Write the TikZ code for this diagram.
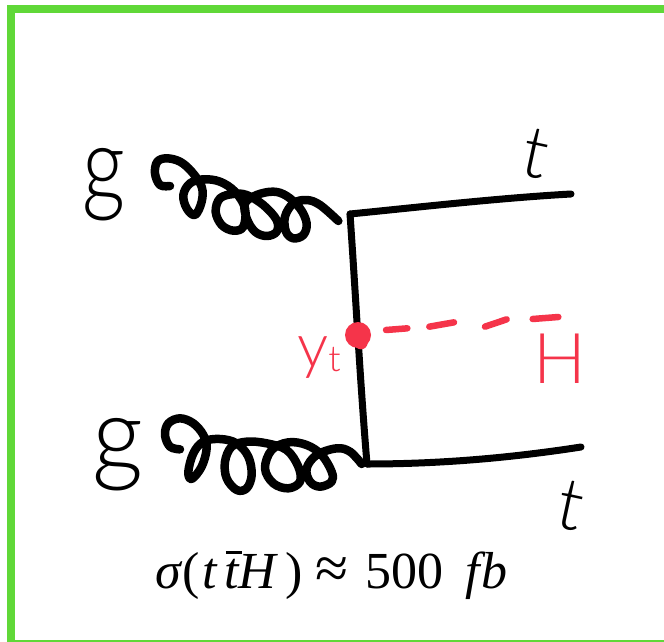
\documentclass[tikz,border=0pt]{standalone}
\usepackage{fontspec}
\setmainfont{Liberation Serif}
\newfontfamily\handfont{Lato Light}
\definecolor{framegreen}{RGB}{96,216,56}
\definecolor{hred}{RGB}{245,52,74}
\tikzset{
  quark/.style={line width=7pt,line cap=round,line join=round,black},
  gluon/.style={line width=8.5pt,line cap=round,line join=round,black},
  higgs/.style={line width=6.5pt,line cap=round,hred},
  hand/.style={font=\handfont,inner sep=0pt,anchor=center},
  handblack/.style={hand,black},
  handred/.style={hand,hred},
  zoomA/.style={shift={(70pt,-120pt)},x=0.33333pt,y=-0.33333pt},
  zoomB/.style={shift={(80pt,-400pt)},x=0.33333pt,y=-0.33333pt},
  zoomC/.style={shift={(290pt,-300pt)},x=0.33333pt,y=-0.33333pt},
}
\begin{document}
\begin{tikzpicture}[x=1pt,y=-1pt]
\useasboundingbox (0,0) rectangle (664,642);
\fill[white] (0,0) rectangle (664,642);
% frame
\fill[framegreen] (7,5) rectangle (664,13);
\fill[framegreen] (7,5) rectangle (15,642);
\fill[framegreen] (7,640) rectangle (664,642);
% vertices
\coordinate (v1) at (350,214);
\coordinate (v2) at (367,464);
\coordinate (e1) at (571,194);
\coordinate (e2) at (581,447);
% fermion lines
\draw[quark] (v1) .. controls (356,300) and (360,380) .. (v2);
\draw[quark] (v1) .. controls (420,207) and (500,198) .. (e1);
\draw[quark] (v2) .. controls (440,464) and (510,458) .. (e2);
% gluons
\begin{scope}[zoomA]
\draw[gluon] plot[smooth,tension=0.6] coordinates {(300,198)(270,195)(255,160)(262,125)(290,115)(330,125)(365,155)(395,200)(395,245)(375,285)(350,265)(340,225)(360,190)(400,178)(450,185)(495,215)(525,265)(520,320)(490,332)(455,315)(437,275)(450,235)(490,222)(530,225)(580,255)(620,300)(620,335)(590,348)(555,335)(530,295)(525,250)(560,225)(610,215)(650,228)(690,265)(710,310)(700,345)(670,355)(648,335)(645,290)(670,250)(710,240)(750,255)(805,303)};
\end{scope}
\begin{scope}[zoomB]
\draw[gluon] plot[smooth,tension=0.6] coordinates {(300,148)(270,140)(255,105)(265,70)(300,55)(340,70)(370,105)(380,145)(365,200)(335,237)(325,215)(340,160)(370,125)(420,117)(470,130)(505,170)(515,225)(500,265)(470,270)(440,235)(435,185)(455,140)(500,125)(560,130)(620,150)(655,200)(660,245)(625,265)(580,250)(555,205)(575,150)(625,127)(680,135)(725,165)(755,215)(755,245)(720,260)(690,245)(680,205)(710,165)(770,145)(810,155)(845,192)};
\end{scope}
% Higgs
\begin{scope}[zoomC]
\draw[higgs] (288,90) -- (352,85);
\draw[higgs] (418,80) -- (492,67);
\draw[higgs] (585,80) -- (650,58);
\draw[higgs] (728,57) -- (805,51);
\fill[hred] (213,128) circle (20);
\end{scope}
\node[circle,fill=hred,minimum size=26pt,inner sep=0pt] (vh) at (358,335) {};
% labels
\node[handblack,font=\handfont\fontsize{105}{105}\selectfont,xscale=0.8] (g1) at (104,185) {g};
\node[handblack,font=\handfont\fontsize{105}{105}\selectfont,xscale=0.95] (g2) at (118,455) {g};
\node[handblack,font=\handfont\fontsize{72}{72}\selectfont,rotate=-12] (t1) at (536,154) {t};
\node[handblack,font=\handfont\fontsize{72}{72}\selectfont,rotate=-12] (t2) at (571,506) {t};
\node[handred,font=\handfont\fontsize{70}{70}\selectfont] (hl) at (560,359) {H};
\node[handred,font=\handfont\fontsize{62}{62}\selectfont] (yt) at (319,358) {y\raisebox{-4pt}{\fontsize{36}{36}\selectfont t}};
\node[black,inner sep=0pt,anchor=base west,font=\fontsize{52}{52}\selectfont] (xs) at (155,588) {\textit{σ}(\kern3pt\textit{t}\kern6pt\textit{t}\llap{\raisebox{34pt}{\rule{16pt}{3pt}}\kern-2pt}\kern-1pt\textit{H}\kern7pt)\kern13pt{\fontsize{60}{60}\selectfont ≈}\kern17pt500\kern22pt\textit{f}\kern-5pt\textit{b}};
\end{tikzpicture}
\end{document}
